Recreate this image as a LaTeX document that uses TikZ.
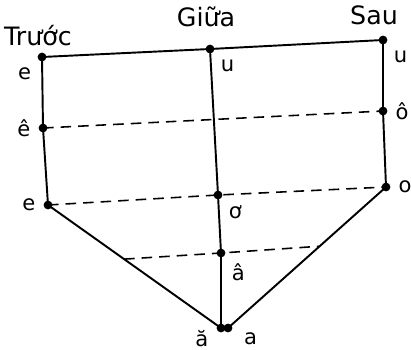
\documentclass[tikz,border=0pt]{standalone}
\usepackage{fontspec}
\setmainfont{DejaVu Sans}
\usepackage{tikz}
\usetikzlibrary{calc}

\begin{document}
\begin{tikzpicture}[x=0.02cm, y=-0.02cm]

        % 1. Frame of the picture (pixel grid of the sketch)
        \useasboundingbox (0,0) rectangle (411,349);

        % 2. Define the points of the chart
        \coordinate (FrontI) at (42,57);    % front, high
        \coordinate (FrontE) at (43,128);   % front, mid
        \coordinate (FrontL) at (48,205);   % front, low
        \coordinate (MidU) at (210,49);     % central, high
        \coordinate (MidO) at (218,195);    % central, mid
        \coordinate (MidA) at (221,253);    % central, lower
        \coordinate (MidB) at (221,328);    % bottom, short a
        \coordinate (MidC) at (228,328);    % bottom, a
        \coordinate (BackU) at (383,40);    % back, high
        \coordinate (BackO) at (383,111);   % back, mid
        \coordinate (BackL) at (386,187);   % back, low

        % Ends of the short dashed line on the two slanted sides
        \coordinate (SlantL) at ($(FrontL)!0.44!(MidB)$);
        \coordinate (SlantR) at ($(BackL)!0.42!(MidC)$);

        % 3. Vertex style
        \tikzset{vertex/.style={fill=black, circle, minimum size=5pt, inner sep=0pt},
                 lab/.style={font=\large, label distance=1pt},
                 guide/.style={line width=0.9pt, dash pattern=on 6pt off 4pt}}

        % 4. Draw the outline - ALL BLACK
        \draw[line width=1.1pt] (FrontI) -- (MidU) -- (BackU);
        \draw[line width=1.1pt] (FrontI) -- (FrontE) -- (FrontL) -- (MidB);
        \draw[line width=1.1pt] (BackU) -- (BackO) -- (BackL) -- (MidC);
        \draw[line width=1.1pt] (MidU) -- (MidO) -- (MidA) -- (MidB);

        % 5. Dashed levels
        \draw[guide] (FrontE) -- (BackO);
        \draw[guide] (FrontL) -- (MidO) -- (BackL);
        \draw[guide] (SlantL) -- (MidA) -- (SlantR);

        % 6. Mark the vowels
        \node[vertex, label={[lab]below left:e}] (i) at (FrontI) {};
        \node[vertex, label={[lab]left:ê}] (ee) at (FrontE) {};
        \node[vertex, label={[lab]left:e}] (e) at (FrontL) {};
        \node[vertex, label={[lab]below right:u}] (uu) at (MidU) {};
        \node[vertex, label={[lab]below right:ơ}] (oo) at (MidO) {};
        \node[vertex, label={[lab]below right:â}] (aa) at (MidA) {};
        \node[vertex, label={[lab, yshift=-6pt]left:ă}] (ab) at (MidB) {};
        \node[vertex, label={[lab, yshift=-6pt, xshift=2pt]right:a}] (a) at (MidC) {};
        \node[vertex, label={[lab]below right:u}] (u) at (BackU) {};
        \node[vertex, label={[lab]right:ô}] (oc) at (BackO) {};
        \node[vertex, label={[lab]right:o}] (o) at (BackL) {};

        % 7. Column headings
        \node[font=\Large] (front) at (38,36) {Trước};
        \node[font=\Large] (central) at (206,17) {Giữa};
        \node[font=\Large] (back) at (374,15) {Sau};

    \end{tikzpicture}
\end{document}
